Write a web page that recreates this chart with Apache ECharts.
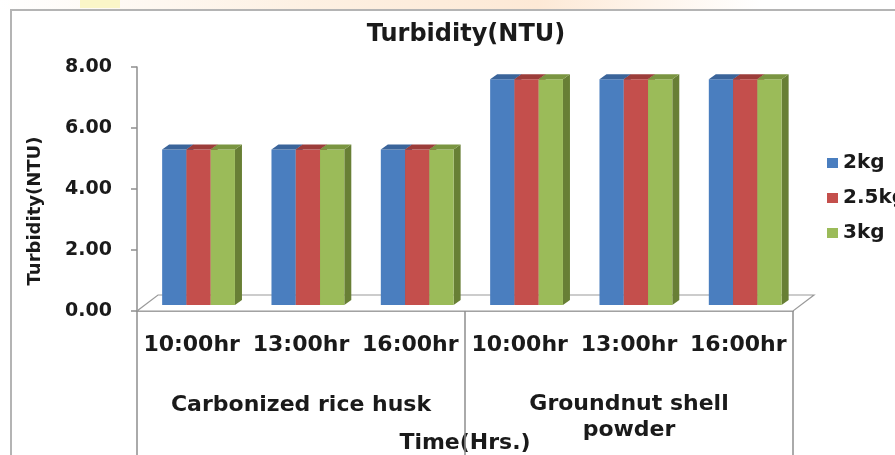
<!DOCTYPE html>
<html>
<head>
<meta charset="utf-8">
<script src="https://cdn.jsdelivr.net/npm/echarts@6/dist/echarts.min.js"></script>
<style>html,body{margin:0;padding:0;background:#fff}#c{width:895px;height:455px}</style>
</head>
<body>
<div id="c"></div>
<script>
const categories = ['10:00hr', '13:00hr', '16:00hr', '10:00hr', '13:00hr', '16:00hr'];
const groupLabels = ['Carbonized rice husk', 'Groundnut shell\npowder'];
const seriesNames = ['2kg', '2.5kg', '3kg'];
const values2kg = [5.1, 5.1, 5.1, 7.4, 7.4, 7.4];
const values25kg = [5.1, 5.1, 5.1, 7.4, 7.4, 7.4];
const values3kg = [5.1, 5.1, 5.1, 7.4, 7.4, 7.4];
const yTicks = [0, 2, 4, 6, 8];

const FONT = 'DejaVu Sans';
const faces = [
  {front: '#4A7EBF', top: '#3A649A', side: '#35598A'},
  {front: '#C44F4C', top: '#9C3D3A', side: '#8C3634'},
  {front: '#9BBB59', top: '#7A9541', side: '#687F35'}
];

function barRenderer(si) {
  return function (params, api) {
    const idx = api.value(0), val = api.value(1);
    const base = api.coord([idx, 0]);
    const top = api.coord([idx, val]);
    const band = api.size([1, 0])[0];
    const bw = band * 0.222;
    const dx = band * 0.063, dy = -6;
    const ddx = 7, ddy = -5;
    const x0 = base[0] - 1.5 * bw + si * bw + dx;
    const yb = base[1] + dy, yt = top[1] + dy;
    const f = faces[si];
    return {
      type: 'group',
      children: [
        {type: 'polygon', shape: {points: [[x0 + bw, yt], [x0 + bw + ddx, yt + ddy], [x0 + bw + ddx, yb + ddy], [x0 + bw, yb]]}, style: {fill: f.side}},
        {type: 'rect', shape: {x: x0, y: yt, width: bw, height: yb - yt}, style: {fill: f.front}},
        {type: 'polygon', shape: {points: [[x0, yt], [x0 + bw, yt], [x0 + bw + ddx, yt + ddy], [x0 + ddx, yt + ddy]]}, style: {fill: f.top}}
      ]
    };
  };
}

function decorRenderer(params, api) {
  const cs = params.coordSys;
  const H = api.getHeight();
  const fy = cs.y + cs.height;
  const fx = cs.x, fw = cs.width;
  const mid = (api.coord([2, 0])[0] + api.coord([3, 0])[0]) / 2;
  const g1 = api.coord([1, 0])[0];
  const g2 = api.coord([4, 0])[0];
  const lineStyle = {stroke: '#8e8e8e', lineWidth: 1.5};
  return {
    type: 'group',
    children: [
      {type: 'polygon', shape: {points: [[fx, fy], [fx + fw, fy], [fx + fw + 21, fy - 16], [fx + 21, fy - 16]]}, style: {fill: '#ffffff', stroke: '#9a9a9a', lineWidth: 1.2}},
      {type: 'line', shape: {x1: fx, y1: fy, x2: fx, y2: H}, style: lineStyle},
      {type: 'line', shape: {x1: mid, y1: fy, x2: mid, y2: H}, style: lineStyle},
      {type: 'line', shape: {x1: fx + fw, y1: fy, x2: fx + fw, y2: H}, style: lineStyle},
      {type: 'text', style: {text: groupLabels[0], x: g1, y: fy + 94, align: 'center', verticalAlign: 'middle', font: 'bold 22px "' + FONT + '"', fill: '#1a1a1a'}},
      {type: 'text', style: {text: groupLabels[1], x: g2, y: fy + 106, align: 'center', verticalAlign: 'middle', font: 'bold 22px "' + FONT + '"', lineHeight: 26, fill: '#1a1a1a'}}
    ]
  };
}

const chart = echarts.init(document.getElementById('c'), null, {renderer: 'canvas'});
const allValues = [values2kg, values25kg, values3kg];
const option = {
  animation: false,
  backgroundColor: '#ffffff',
  title: {
    text: 'Turbidity(NTU)', left: 461, top: 18, textAlign: 'center',
    textStyle: {fontFamily: FONT, fontWeight: 'bold', fontSize: 24, color: '#1a1a1a'}
  },
  legend: {
    orient: 'vertical', left: 822, top: 148, itemWidth: 11, itemHeight: 10, itemGap: 15,
    data: seriesNames.map((n, i) => ({name: n, itemStyle: {color: faces[i].front}})),
    textStyle: {fontFamily: FONT, fontWeight: 'bold', fontSize: 20, lineHeight: 20, color: '#1a1a1a'},
    icon: 'rect'
  },
  grid: {left: 137, right: 102, top: 67, bottom: 144, outerBoundsMode: 'none', containLabel: false},
  xAxis: {
    type: 'category', data: categories,
    name: 'Time(Hrs.)', nameLocation: 'middle', nameGap: 121,
    nameTextStyle: {fontFamily: FONT, fontWeight: 'bold', fontSize: 22, color: '#1a1a1a'},
    axisLine: {show: true, lineStyle: {color: '#8e8e8e', width: 1.5}},
    axisTick: {show: false},
    axisLabel: {margin: 23, fontFamily: FONT, fontWeight: 'bold', fontSize: 22, color: '#1a1a1a', interval: 0}
  },
  yAxis: {
    type: 'value', min: yTicks[0], max: yTicks[yTicks.length - 1], interval: yTicks[1] - yTicks[0],
    axisLine: {show: true, lineStyle: {color: '#8e8e8e', width: 1.5}},
    axisTick: {show: true, length: 6, lineStyle: {color: '#8e8e8e', width: 1.5}},
    splitLine: {show: false},
    axisLabel: {margin: 25, fontFamily: FONT, fontWeight: 'bold', fontSize: 19, color: '#1a1a1a', formatter: v => v.toFixed(2)}
  },
  graphic: [
    {type: 'rect', shape: {x: 0, y: 0, width: 895, height: 9}, style: {fill: new echarts.graphic.LinearGradient(0, 0, 1, 0, [{offset: 0, color: '#ffffff'}, {offset: 0.35, color: '#fdf0e2'}, {offset: 0.6, color: '#fde9d6'}, {offset: 0.85, color: '#ffffff'}, {offset: 1, color: '#ffffff'}])}, silent: true},
    {type: 'rect', shape: {x: 80, y: 0, width: 40, height: 8}, style: {fill: '#fbf6c8'}, silent: true},
    {type: 'polyline', shape: {points: [[11, 455], [11, 10], [895, 10]]}, style: {stroke: '#b4b4b4', lineWidth: 2, fill: null}, silent: true},
    {type: 'text', rotation: Math.PI / 2, x: 35, y: 211, style: {text: 'Turbidity(NTU)', align: 'center', verticalAlign: 'middle', font: 'bold 18px "' + FONT + '"', fill: '#1a1a1a'}, silent: true}
  ],
  series: [
    {type: 'custom', name: 'decor', silent: true, renderItem: decorRenderer, data: [[0, 0]], z: 1}
  ].concat(seriesNames.map((n, si) => ({
    type: 'custom', name: n, renderItem: barRenderer(si), z: 2 + si,
    itemStyle: {color: faces[si].front},
    data: allValues[si].map((v, i) => [i, v])
  })))
};
chart.setOption(option);
</script>
</body>
</html>
